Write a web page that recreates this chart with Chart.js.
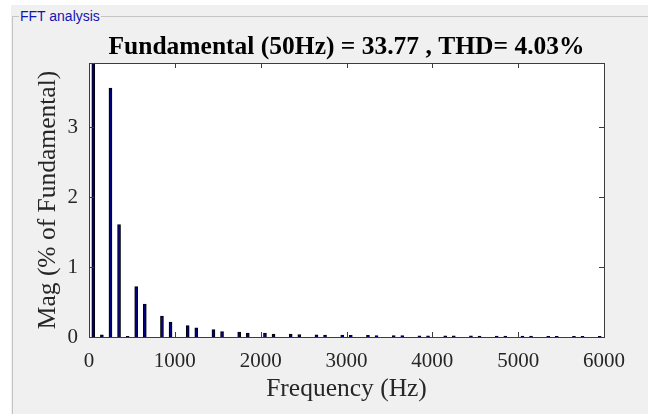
<!DOCTYPE html>
<html>
<head>
<meta charset="utf-8">
<title>FFT analysis</title>
<script src="https://cdn.jsdelivr.net/npm/chart.js@4.4.1/dist/chart.umd.min.js"></script>
<style>
    body { margin: 0; background: #ffffff; }
    #panel { position: absolute; left: 11px; top: 5px; width: 637px; height: 409px; background: #f0f0f0; }
    #group { position: absolute; left: 12px; top: 16px; width: 640px; height: 410px; border-left: 1px solid #c4c4c4; border-top: 1px solid #c4c4c4; }
    #groupLabel { position: absolute; left: 19px; top: 8px; padding: 0 1px; background: #f0f0f0; color: #1414b4;
        font: 14px "Liberation Sans", Arial, sans-serif; }
    #wrap { position: absolute; left: 0; top: 0; width: 648px; height: 414px; }
</style>
</head>
<body>
<div id="panel"></div>
<div id="group"></div>
<div id="groupLabel">FFT analysis</div>
<div id="wrap"><canvas id="fft" width="648" height="414"></canvas></div>
<script>
// harmonic frequencies (Hz) and magnitudes (% of fundamental)
const freqs = [50, 150, 250, 350, 450, 550, 650, 850, 950, 1150, 1250, 1450, 1550, 1750, 1850,
    2050, 2150, 2350, 2450, 2650, 2750, 2950, 3050, 3250, 3350, 3550, 3650, 3850, 3950,
    4150, 4250, 4450, 4550, 4750, 4850, 5050, 5150, 5350, 5450, 5650, 5750, 5950];
const mags = [100, 0.03, 3.56, 1.61, 0.01, 0.72, 0.47, 0.30, 0.215, 0.163, 0.13, 0.106, 0.077, 0.072, 0.057,
    0.057, 0.043, 0.043, 0.036, 0.032, 0.028, 0.027, 0.024, 0.024, 0.021, 0.02, 0.019, 0.018, 0.017,
    0.016, 0.015, 0.015, 0.014, 0.013, 0.013, 0.012, 0.012, 0.011, 0.011, 0.01, 0.01, 0.01];
const xTicks = [0, 1000, 2000, 3000, 4000, 5000, 6000];
const yTicks = [0, 1, 2, 3];
const titleText = "Fundamental (50Hz) = 33.77 , THD= 4.03%";

const serif = "'Liberation Serif', 'Times New Roman', serif";

const axesBox = {
    id: "axesBox",
    beforeDraw(chart) {
        const a = chart.chartArea;
        const ctx = chart.ctx;
        ctx.save();
        ctx.fillStyle = "#ffffff";
        ctx.fillRect(a.left, a.top, a.right - a.left, a.bottom - a.top);
        ctx.restore();
    },
    afterDraw(chart) {
        const a = chart.chartArea;
        const ctx = chart.ctx;
        const x = chart.scales.x, y = chart.scales.y;
        ctx.save();
        ctx.strokeStyle = "#3c3c3c";
        ctx.lineWidth = 1;
        ctx.beginPath();
        xTicks.forEach(v => {
            const px = Math.round(x.getPixelForValue(v)) + 0.5;
            ctx.moveTo(px, a.bottom); ctx.lineTo(px, a.bottom - 5);
            ctx.moveTo(px, a.top); ctx.lineTo(px, a.top + 5);
        });
        yTicks.forEach(v => {
            const py = Math.round(y.getPixelForValue(v)) + 0.5;
            ctx.moveTo(a.left, py); ctx.lineTo(a.left + 5, py);
            ctx.moveTo(a.right, py); ctx.lineTo(a.right - 5, py);
        });
        ctx.stroke();
        ctx.strokeRect(Math.round(a.left) + 0.5, Math.round(a.top) + 0.5,
            Math.round(a.right - a.left), Math.round(a.bottom - a.top));
        ctx.restore();
    }
};

const ctx = document.getElementById("fft").getContext("2d");
new Chart(ctx, {
    type: "bar",
    data: {
        datasets: [{
            data: freqs.map((f, i) => ({ x: f, y: mags[i] })),
            backgroundColor: "#000080",
            borderColor: "#000000",
            borderWidth: 1,
            barThickness: 3
        }]
    },
    options: {
        responsive: false,
        animation: false,
        layout: { padding: { left: 45, right: 0, top: 0, bottom: 0 } },
        plugins: {
            legend: { display: false },
            tooltip: { enabled: false },
            title: {
                display: true,
                text: titleText,
                color: "#000000",
                font: { family: serif, size: 25.5, weight: "bold", lineHeight: 1.2 },
                padding: { top: 31.7, bottom: 0.7 }
            }
        },
        scales: {
            x: {
                type: "linear",
                offset: false,
                min: 0,
                max: 6000,
                afterBuildTicks: s => { s.ticks = xTicks.map(v => ({ value: v })); },
                afterFit: s => { s.height = 77; },
                grid: { display: false, drawTicks: false },
                border: { display: false },
                ticks: { color: "#262626", padding: 12, font: { family: serif, size: 21 }, maxRotation: 0,
                    callback: v => String(v) },
                title: {
                    display: true,
                    text: "Frequency (Hz)",
                    color: "#262626",
                    font: { family: serif, size: 25.5, lineHeight: 1.2 },
                    padding: { top: 0, bottom: 9 }
                }
            },
            y: {
                min: 0,
                max: 3.92,
                afterBuildTicks: s => { s.ticks = yTicks.map(v => ({ value: v })); },
                afterFit: s => { s.width = 44; },
                grid: { display: false, drawTicks: false },
                border: { display: false },
                ticks: { color: "#262626", padding: 11, font: { family: serif, size: 21 },
                    callback: v => String(v) },
                title: {
                    display: true,
                    text: "Mag (% of Fundamental)",
                    color: "#262626",
                    font: { family: serif, size: 25.5, lineHeight: 1.2 },
                    padding: { top: -12.3, bottom: 0 }
                }
            },
            y2: {
                position: "right",
                display: true,
                afterFit: s => { s.width = 44; },
                grid: { display: false, drawTicks: false },
                border: { display: false },
                ticks: { display: false }
            }
        }
    },
    plugins: [axesBox]
});
</script>
</body>
</html>
